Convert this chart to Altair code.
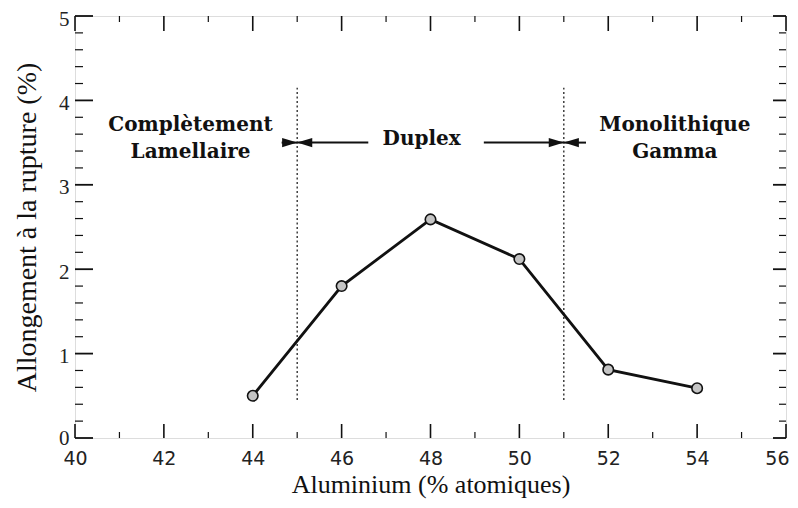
import altair as alt
import pandas as pd

# Data series
al_pct = [44, 46, 48, 50, 52, 54]
elong = [0.50, 1.80, 2.59, 2.12, 0.81, 0.59]

# Phase boundaries (dotted lines)
bound_x = [45, 51]
bound_y0 = [0.45, 0.45]
bound_y1 = [4.15, 4.15]

# Arrow shafts
shaft_x0 = [44.65, 45.0, 49.2, 51.0]
shaft_x1 = [45.0, 46.6, 51.0, 51.5]
shaft_y = [3.5, 3.5, 3.5, 3.5]

# Annotation texts
ann_text = ["Complètement", "Lamellaire", "Duplex", "Monolithique", "Gamma"]
ann_x = [42.6, 42.6, 47.8, 53.5, 53.5]
ann_y = [3.71, 3.39, 3.54, 3.71, 3.39]

# Tick values
x_major = [40, 42, 44, 46, 48, 50, 52, 54, 56]
x_minor = [41, 43, 45, 47, 49, 51, 53, 55]
y_major = [0, 1, 2, 3, 4, 5]
y_minor = [round(i * 0.2, 1) for i in range(26) if i % 5 != 0]

W, H = 711, 422

axis_x = alt.Axis(values=x_major, format="d", ticks=False, domain=False, grid=False,
                  labelFlush=False,
                  labelAlign={"expr": "datum.value == 56 ? 'right' : 'center'"},
                  labelOffset={"expr": "datum.value == 56 ? 3 : 0"},
                  labelFont="DejaVu Sans", labelFontSize=19, labelColor="#222",
                  labelPadding=11, titleFont="Liberation Serif", titleFontSize=26,
                  titleFontWeight="normal", titleColor="#111", titlePadding=3)
axis_y = alt.Axis(values=y_major, format="d", ticks=False, domain=False, grid=False,
                  labelFlush=False, labelOffset={"expr": "datum.value == 0 ? 0 : 3"},
                  labelFont="Liberation Serif", labelFontSize=21,
                  labelColor="#222", labelPadding=6, titleFont="Liberation Serif", titleFontSize=28,
                  titleFontWeight="normal", titleColor="#111", titlePadding=17)

xs = alt.Scale(domain=[40, 56], nice=False, zero=False)
ys = alt.Scale(domain=[0, 5], nice=False, zero=False)
XT = "Aluminium (% atomiques)"
YT = "Allongement à la rupture (%)"

def X(f="x"):
    return alt.X(f + ":Q", scale=xs, axis=axis_x, title=XT)

def Y(f="y"):
    return alt.Y(f + ":Q", scale=ys, axis=axis_y, title=YT)

df = pd.DataFrame({"x": al_pct, "y": elong})
line = alt.Chart(df).mark_line(color="#111", strokeWidth=2.8).encode(x=X(), y=Y())
pts = alt.Chart(df).mark_point(shape="circle", size=110, filled=True, fill="#c4c4c4",
                               stroke="#111", strokeWidth=1.6, opacity=1).encode(x=X(), y=Y())

bdf = pd.DataFrame({"x": bound_x, "y": bound_y0, "y2": bound_y1})
bounds = alt.Chart(bdf).mark_rule(color="#222", strokeWidth=1.3, strokeDash=[2, 2.5]).encode(
    x=X(), y=Y(), y2="y2:Q")

sdf = pd.DataFrame({"x": shaft_x0, "x2": shaft_x1, "y": shaft_y})
shafts = alt.Chart(sdf).mark_rule(color="#111", strokeWidth=2).encode(x=X(), x2="x2:Q", y=Y())

hdf = pd.DataFrame({"x": bound_x, "y": [3.5, 3.5]})
head_r = alt.Chart(hdf).mark_point(shape="M -1 -0.6 L 1 0 L -1 0.6 Z", size=230, filled=True,
                                   color="#111", opacity=1, xOffset=-7.5).encode(x=X(), y=Y())
head_l = alt.Chart(hdf).mark_point(shape="M 1 -0.6 L -1 0 L 1 0.6 Z", size=230, filled=True,
                                   color="#111", opacity=1, xOffset=7.5).encode(x=X(), y=Y())

tdf = pd.DataFrame({"x": ann_x, "y": ann_y, "t": ann_text})
texts = alt.Chart(tdf).mark_text(font="DejaVu Serif", fontSize=20, fontWeight="bold",
                                 color="#111", align="center", baseline="middle").encode(
    x=X(), y=Y(), text="t:N")

tick_color = "#111"
def xticks(vals, length, top, width):
    d = pd.DataFrame({"x": vals})
    if top:
        y1, y2 = alt.value(0), alt.value(length)
    else:
        y1, y2 = alt.value(H), alt.value(H - length)
    return alt.Chart(d).mark_rule(color=tick_color, strokeWidth=width).encode(x=X(), y=y1, y2=y2)

def yticks(vals, length, right, width):
    d = pd.DataFrame({"y": vals})
    if right:
        x1, x2 = alt.value(W), alt.value(W - length)
    else:
        x1, x2 = alt.value(0), alt.value(length)
    return alt.Chart(d).mark_rule(color=tick_color, strokeWidth=width).encode(y=Y(), x=x1, x2=x2)

ticks = [
    xticks(x_major, 14, False, 1.6), xticks(x_minor, 6, False, 1.2),
    xticks(x_major, 15, True, 1.6), xticks(x_minor, 6, True, 1.2),
    yticks(y_major, 18, False, 1.8), yticks(y_minor, 8, False, 1.2),
    yticks(y_major, 13, True, 1.8), yticks(y_minor, 7, True, 1.2),
]

chart = alt.layer(bounds, line, pts, shafts, head_r, head_l, texts, *ticks).properties(
    width=W, height=H,
    autosize=alt.AutoSizeParams(type="none"),
    padding={"left": 67, "top": 8, "right": 4, "bottom": 62},
).configure_view(stroke="#111", strokeWidth=1.6).configure(background="white")

chart.save("out.html", embed_options={"renderer": "svg", "actions": False})
